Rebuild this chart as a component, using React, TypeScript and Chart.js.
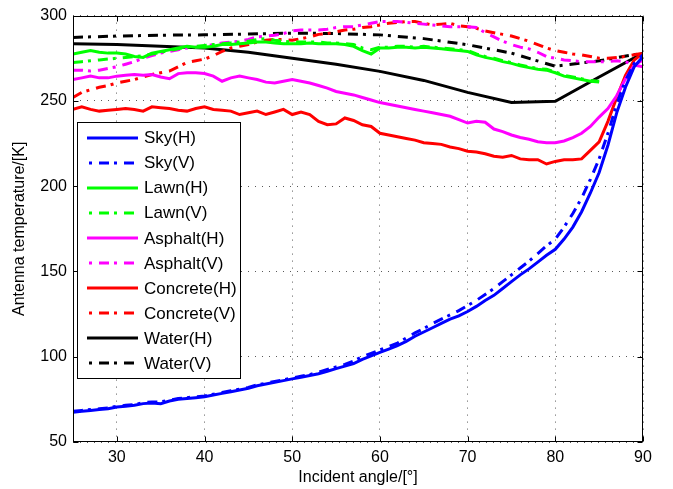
import { useEffect, useRef } from 'react';
import { Chart, registerables } from 'chart.js';

Chart.register(...registerables);

const FONT = '"Liberation Sans", Arial, Helvetica, sans-serif';

const angles = [
  25, 26, 27, 28, 29, 30, 31, 32, 33, 34, 35, 36, 37, 38, 39, 40, 41, 42, 43, 44, 45, 46,
  47, 48, 49, 50, 51, 52, 53, 54, 55, 56, 57, 58, 59, 60, 61, 62, 63, 64, 65, 66, 67, 68,
  69, 70, 71, 72, 73, 74, 75, 76, 77, 78, 79, 80, 81, 82, 83, 84, 85, 86, 87, 88, 89, 90,
];

const waterAngles = [25, 30, 35, 40, 45, 50, 55, 60, 65, 70, 75, 80, 85, 90];

const xTicks = [30, 40, 50, 60, 70, 80, 90];
const yTicks = [50, 100, 150, 200, 250, 300];

const skyH = [
  67.5, 68, 68.5, 69, 69.5, 70.5, 71, 71.5, 72.5, 72.8, 72.5, 74, 75, 75.5, 76, 76.5, 77.5, 78.5, 79.5, 80.5, 81.5, 83,
  84, 85, 86, 87, 88, 89, 90, 91.5, 93, 94.5, 96, 98.5, 100.5, 102.5, 104.5, 106.5, 109, 112, 114.5, 117, 119.5, 122,
  124, 126.5, 129.5, 133, 136, 140, 144, 148, 151.5, 155.5, 159.5, 163, 169, 176, 185, 196, 208, 224, 243, 258, 270, 276,
];

const skyV = [
  68, 68.5, 69, 69.5, 70, 71, 71.5, 72, 73, 73.5, 73.5, 74.5, 75.5, 76, 76.5, 77, 78, 79, 80, 81, 82, 83.5,
  84.5, 85.5, 86.5, 87.5, 88.5, 89.5, 91, 92.5, 94, 95.5, 97.5, 100, 102, 104, 106, 108, 111, 114, 116.5, 119.5, 122, 124.5,
  127, 130, 133, 136.5, 140, 144, 148, 152, 156, 160.5, 165, 169, 176, 184, 193, 204, 216, 231, 248, 262, 272, 277,
];

const lawnH = [
  277.5, 278.5, 279.5, 278.5, 278, 278, 277.5, 276, 275.5, 278, 279, 280, 281, 282, 281.5, 281.5, 282, 283, 283, 283.5, 284, 284.5,
  284.5, 284, 283.5, 283.5, 283.5, 284, 283.5, 283.5, 283.5, 283, 282, 279.5, 277.5, 281, 281, 281.5, 281.5, 281, 281.5, 281, 280.5, 280,
  279.5, 279, 277, 275.5, 274.5, 273, 272, 270.5, 269.5, 268.5, 268, 266.5, 264.5, 263.5, 262.5, 261.5, 261, null, null, null, null, null,
];

const lawnV = [
  272.5, 273, 273.5, 274, 274.5, 275, 275.5, 276, 276.5, 277.5, 278.5, 279.5, 280.5, 281.5, 282, 282.5, 283, 283.5, 284, 284.5, 285, 286,
  286.5, 285.5, 285, 284.5, 284.5, 284.5, 284.5, 284, 284, 283.5, 283, 281, 280, 281.5, 281.5, 282, 282, 281.5, 282, 281.5, 281, 280.5,
  280, 279.5, 277.5, 276, 275, 273.5, 272.5, 271, 270, 269, 268.5, 267, 265, 264, 263, 262, 261.5, null, null, null, null, null,
];

const asphaltH = [
  262.5, 263.5, 264.5, 263.5, 263.5, 264.5, 265, 265.5, 265, 265.5, 264, 263, 266, 266.5, 266.5, 266, 264.5, 261.5, 263.5, 264.5, 263.5, 262.5,
  261, 260.5, 261.5, 262.5, 261.5, 260.5, 259, 257.5, 255.5, 254.5, 253.5, 252, 250.5, 249, 248, 247, 246, 245, 244, 243, 242, 241,
  239, 237, 238, 237.5, 233.5, 232, 230, 228.5, 227.5, 226, 225.5, 225.5, 226.5, 228.5, 231, 235, 240.5, 245.5, 253, 263, 271, 274,
];

const asphaltV = [
  268, 268, 267.5, 268, 269, 270, 271.5, 273, 275, 276.5, 278, 279, 280, 281, 281.5, 282, 283, 284, 284.5, 285, 286, 287.5,
  288, 288.5, 289.5, 291, 291.5, 291.5, 291.5, 292, 293, 293.5, 293.5, 294.5, 295.5, 296.5, 296.5, 296.5, 296, 295.5, 295, 294.5, 294, 293.5,
  293.5, 293.5, 293, 290, 287.5, 285, 283, 281.5, 280.5, 278.5, 276, 275, 274, 273.5, 273, 273, 273, 273, 273.5, 273, 271, 270,
];

const concreteH = [
  245, 246.5, 245, 244, 244.5, 245, 245.5, 245, 244, 246.5, 246, 245.5, 244.5, 244, 245.5, 246.5, 245, 244.5, 244, 242, 243, 244,
  242, 243.5, 245, 242, 243.5, 242, 238, 236, 236.5, 240, 238.5, 236, 235, 231, 230, 229, 228, 227, 225.5, 225, 224.5, 223,
  222, 220.5, 220, 219, 217.5, 217, 218, 216, 215.5, 215.5, 213, 214.5, 215.5, 215.5, 216, 221, 226, 238, 252, 265, 274, 278,
];

const concreteV = [
  252, 255, 256.5, 258, 259, 260.5, 261.5, 262.5, 264, 265.5, 266.5, 267.5, 270, 272.5, 273.5, 274.5, 276.5, 279, 281, 282, 283, 284.5,
  285.5, 286, 286, 285.5, 286.5, 287.5, 289, 289.5, 290.5, 291.5, 292, 293, 293.5, 294.5, 295.5, 296, 296.5, 296.5, 295.5, 294.5, 295, 295.5,
  294, 293.5, 292.5, 291, 290, 289, 288, 286.5, 285, 283, 281, 279.5, 278.5, 277.5, 277, 276, 275, 275, 275.5, 276, 277, 278,
];

const waterH = [283.5, 283, 282, 281, 278.5, 275, 271.5, 267.3, 262, 255, 249, 249.8, 264, 278];
const waterV = [287.2, 288, 288.5, 288.7, 289.2, 289.7, 289.5, 288.7, 286.5, 282.9, 278, 270.3, 273.5, 278];

const DASHDOT = [10, 5, 3, 7];

function pts(xs: number[], ys: (number | null)[]) {
  return xs.map((x, i) => ({ x, y: ys[i] }));
}

const framePlugin = {
  id: 'matlabFrame',
  afterDatasetsDraw(chart: any) {
    const { ctx, chartArea, scales } = chart;
    const l = Math.round(chartArea.left) + 0.5;
    const r = Math.round(chartArea.right) - 0.5;
    const t = Math.round(chartArea.top) + 0.5;
    const b = Math.round(chartArea.bottom) - 0.5;
    ctx.save();
    ctx.setLineDash([]);
    ctx.strokeStyle = '#000';
    ctx.lineWidth = 1;
    ctx.strokeRect(l, t, r - l, b - t);
    const tl = 5;
    ctx.beginPath();
    xTicks.forEach((v) => {
      const px = Math.round(scales.x.getPixelForValue(v)) + 0.5;
      ctx.moveTo(px, b);
      ctx.lineTo(px, b - tl);
      ctx.moveTo(px, t);
      ctx.lineTo(px, t + tl);
    });
    yTicks.forEach((v) => {
      const py = Math.round(scales.y.getPixelForValue(v)) + 0.5;
      ctx.moveTo(l, py);
      ctx.lineTo(l + tl, py);
      ctx.moveTo(r, py);
      ctx.lineTo(r - tl, py);
    });
    ctx.stroke();

    // legend box
    const bx = 77.5, by = 122.5, bw = 163, bh = 256;
    ctx.fillStyle = '#fff';
    ctx.fillRect(bx, by, bw, bh);
    ctx.strokeRect(bx, by, bw, bh);
    ctx.font = `17px ${FONT}`;
    ctx.textBaseline = 'middle';
    ctx.textAlign = 'left';
    chart.data.datasets.forEach((ds: any, i: number) => {
      const y = 137.5 + i * 25.1;
      ctx.save();
      ctx.strokeStyle = ds.borderColor;
      ctx.lineWidth = 3;
      ctx.setLineDash(ds.borderDash || []);
      ctx.lineDashOffset = ds.borderDash && ds.borderDash.length ? 13 : 0;
      ctx.beginPath();
      ctx.moveTo(87, Math.round(y));
      ctx.lineTo(138, Math.round(y));
      ctx.stroke();
      ctx.restore();
      ctx.fillStyle = '#000';
      ctx.fillText(ds.label, 144, y + 1);
    });
    ctx.restore();
  },
};

export default function App() {
  const ref = useRef<HTMLCanvasElement | null>(null);

  useEffect(() => {
    if (!ref.current) return;
    const mk = (label: string, xs: number[], ys: (number | null)[], color: string, dashed: boolean) => ({
      label,
      data: pts(xs, ys),
      borderColor: color,
      backgroundColor: color,
      borderWidth: 3,
      borderDash: dashed ? DASHDOT : [],
      pointRadius: 0,
      tension: 0,
      fill: false,
      spanGaps: false,
    });
    const chart = new Chart(ref.current, {
      type: 'line',
      data: {
        datasets: [
          mk('Sky(H)', angles, skyH, '#0000ff', false),
          mk('Sky(V)', angles, skyV, '#0000ff', true),
          mk('Lawn(H)', angles, lawnH, '#00ff00', false),
          mk('Lawn(V)', angles, lawnV, '#00ff00', true),
          mk('Asphalt(H)', angles, asphaltH, '#ff00ff', false),
          mk('Asphalt(V)', angles, asphaltV, '#ff00ff', true),
          mk('Concrete(H)', angles, concreteH, '#ff0000', false),
          mk('Concrete(V)', angles, concreteV, '#ff0000', true),
          mk('Water(H)', waterAngles, waterH, '#000000', false),
          mk('Water(V)', waterAngles, waterV, '#000000', true),
        ] as any,
      },
      options: {
        animation: false,
        responsive: false,
        devicePixelRatio: 1,
        layout: { padding: { left: 0, top: 14, right: 30, bottom: 0 } },
        plugins: { legend: { display: false }, tooltip: { enabled: false } },
        scales: {
          x: {
            type: 'linear',
            min: 25,
            max: 90,
            afterBuildTicks: (s: any) => {
              s.ticks = xTicks.map((v) => ({ value: v }));
            },
            afterFit: (s: any) => {
              s.height = 47;
            },
            ticks: { color: '#000', font: { family: FONT, size: 16 }, padding: 6, maxRotation: 0 },
            grid: { color: 'rgba(0,0,0,0.65)', lineWidth: 1, drawTicks: false },
            border: { display: false, dash: [1, 6] },
            title: {
              display: true,
              text: 'Incident angle/[°]',
              color: '#000',
              font: { family: FONT, size: 16 },
              padding: { top: 0, bottom: 2 },
            },
          },
          y: {
            type: 'linear',
            min: 50,
            max: 300,
            afterBuildTicks: (s: any) => {
              s.ticks = yTicks.map((v) => ({ value: v }));
            },
            afterFit: (s: any) => {
              s.width = 73;
            },
            ticks: { color: '#000', font: { family: FONT, size: 16 }, padding: 6 },
            grid: { color: 'rgba(0,0,0,0.65)', lineWidth: 1, drawTicks: false },
            border: { display: false, dash: [1, 6] },
            title: {
              display: true,
              text: 'Antenna temperature/[K]',
              color: '#000',
              font: { family: FONT, size: 16 },
              padding: { top: 10, bottom: 0 },
            },
          },
        },
      },
      plugins: [framePlugin],
    } as any);
    return () => chart.destroy();
  }, []);

  return (
    <div style={{ position: 'absolute', left: 0, top: 0, width: 673, height: 489, background: '#fff' }}>
      <canvas ref={ref} width={673} height={489} style={{ display: 'block' }} />
    </div>
  );
}
